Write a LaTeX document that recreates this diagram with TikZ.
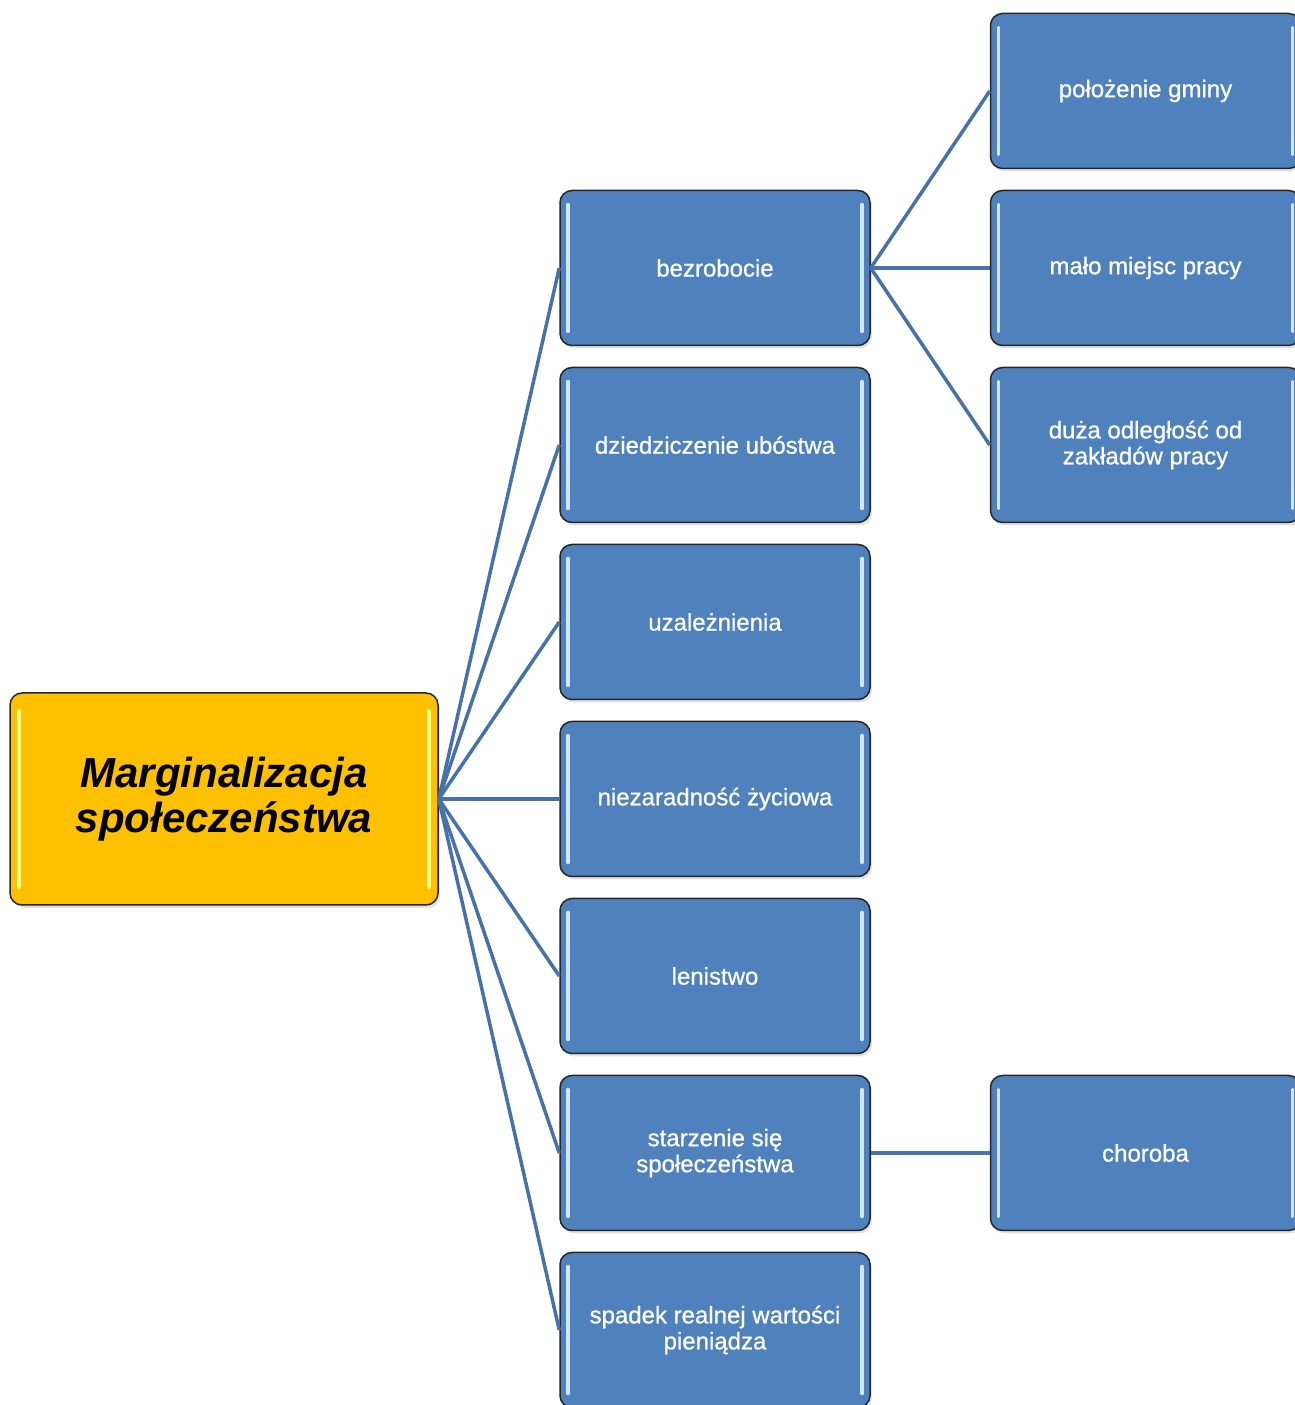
\documentclass[tikz,border=0pt]{standalone}
\usepackage{fontspec}
\newfontfamily\lsans{Liberation Sans}
\newfontfamily\lsansfb[FakeBold=0.8]{Liberation Sans}
\usetikzlibrary{shadows}
\definecolor{boxblue}{RGB}{79,129,189}
\definecolor{boxyellow}{RGB}{255,192,0}
\definecolor{linkblue}{RGB}{70,114,172}
\definecolor{hlblue}{RGB}{205,232,255}
\definecolor{hlyellow}{RGB}{255,255,140}
\tikzset{
  basebox/.style={draw=black!85, line width=1.5pt, rounded corners=12pt,
    align=center, inner sep=0pt,
    drop shadow={shadow xshift=2pt, shadow yshift=-3pt, fill=black!22}},
  bluebox/.style={basebox, fill=boxblue, text=white,
    minimum width=310pt, minimum height=155pt,
    font=\lsansfb\fontsize{24}{26}\selectfont,
    path picture={
      \draw[hlblue, line width=3.5pt, line cap=round]
        ([xshift=8pt,yshift=-14pt]path picture bounding box.north west) --
        ([xshift=8pt,yshift=14pt]path picture bounding box.south west);
      \draw[hlblue, line width=3.5pt, line cap=round]
        ([xshift=-8pt,yshift=-14pt]path picture bounding box.north east) --
        ([xshift=-8pt,yshift=14pt]path picture bounding box.south east);
    }},
  yellowbox/.style={basebox, fill=boxyellow, text=black,
    minimum width=428pt, minimum height=212pt,
    font=\lsans\bfseries\itshape\fontsize{42}{45}\selectfont,
    path picture={
      \draw[hlyellow, line width=3.5pt, line cap=round]
        ([xshift=9pt,yshift=-18pt]path picture bounding box.north west) --
        ([xshift=9pt,yshift=18pt]path picture bounding box.south west);
      \draw[hlyellow, line width=3.5pt, line cap=round]
        ([xshift=-9pt,yshift=-18pt]path picture bounding box.north east) --
        ([xshift=-9pt,yshift=18pt]path picture bounding box.south east);
    }},
  link/.style={draw=linkblue, line width=3.5pt}
}
\begin{document}
\begin{tikzpicture}[x=1pt,y=1pt]
\useasboundingbox (0,0) rectangle (1295,1405);
\clip (0,0) rectangle (1295,1405);
\fill[white] (0,0) rectangle (1295,1405);

\node[yellowbox] (main) at (224,606) {Marginalizacja\\społeczeństwa};

\node[bluebox] (b1) at (715,1137) {bezrobocie};
\node[bluebox] (b2) at (715,960) {dziedziczenie ubóstwa};
\node[bluebox] (b3) at (715,783) {uzależnienia};
\node[bluebox] (b4) at (715,606) {niezaradność życiowa};
\node[bluebox] (b5) at (715,429) {lenistwo};
\node[bluebox] (b6) at (715,252) {starzenie się\\społeczeństwa};
\node[bluebox] (b7) at (715,75) {spadek realnej wartości\\pieniądza};

\node[bluebox] (r1) at (1145.5,1314) {położenie gminy};
\node[bluebox] (r2) at (1145.5,1137) {mało miejsc pracy};
\node[bluebox] (r3) at (1145.5,960) {duża odległość od\\zakładów pracy};
\node[bluebox] (r4) at (1145.5,252) {choroba};

\foreach \b in {b1,b2,b3,b4,b5,b6,b7}
  \draw[link] (main.east) -- (\b.west);
\foreach \r in {r1,r2,r3}
  \draw[link] (b1.east) -- (\r.west);
\draw[link] (b6.east) -- (r4.west);
\end{tikzpicture}
\end{document}
